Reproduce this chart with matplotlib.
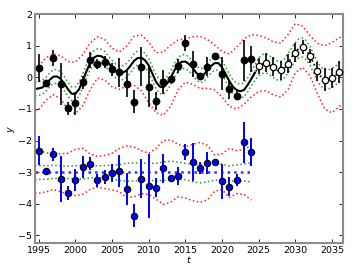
import numpy as np
import matplotlib
matplotlib.use('Agg')
import matplotlib.pyplot as plt

# --- observed series (upper, black) and forecast points (open)
yr_obs = list(range(1995, 2025))
y_obs = [0.30, -0.18, 0.60, -0.21, -0.98, -0.82, -0.16, 0.54, 0.42, 0.49,
         0.25, 0.16, -0.21, -0.77, 0.34, -0.29, -0.74, -0.15, -0.05, 0.37,
         1.08, 0.42, 0.03, 0.34, 0.68, 0.11, -0.37, -0.58, 0.54, 0.58]
e_obs = [0.45, 0.08, 0.25, 0.65, 0.20, 0.37, 0.20, 0.25, 0.15, 0.18,
         0.20, 0.45, 0.40, 0.37, 0.62, 0.65, 0.28, 0.38, 0.06, 0.22,
         0.25, 0.42, 0.12, 0.30, 0.08, 0.52, 0.30, 0.15, 0.65, 0.42]

yr_fc = list(range(2025, 2037))
y_fc = [0.36, 0.46, 0.33, 0.22, 0.43, 0.78, 0.95, 0.68, 0.19, -0.07, -0.01, 0.16]
e_fc = [0.25, 0.30, 0.30, 0.30, 0.30, 0.30, 0.22, 0.22, 0.30, 0.35, 0.32, 0.35]

# --- lower series (blue)
y_low = [-2.32, -2.97, -2.44, -3.21, -3.65, -3.26, -2.84, -2.73, -3.26, -3.15,
         -3.02, -2.97, -3.53, -4.37, -3.21, -3.44, -3.49, -2.88, -3.19, -3.13,
         -2.37, -2.68, -2.87, -2.72, -2.69, -3.29, -3.46, -3.25, -2.05, -2.36]
e_low = [0.45, 0.05, 0.20, 0.72, 0.22, 0.35, 0.35, 0.20, 0.20, 0.22,
         0.28, 0.50, 0.50, 0.35, 0.62, 1.00, 0.30, 0.45, 0.05, 0.28,
         0.25, 0.60, 0.20, 0.35, 0.10, 0.55, 0.30, 0.20, 0.65, 0.45]
low_level = -3.0

# --- fitted mean of upper series, every half year 1994.5..2036.5
mean_t = np.arange(1994.5, 2036.51, 0.5)
mean_y = [-0.37, -0.35, -0.32, -0.22, -0.08, 0.02, 0.03, -0.05, -0.20, -0.38,
          -0.52, -0.52, -0.38, -0.12, 0.18, 0.45, 0.62, 0.68, 0.67, 0.60,
          0.46, 0.32, 0.20, 0.14, 0.15, 0.22, 0.36, 0.52, 0.61, 0.62,
          0.54, 0.38, 0.12, -0.14, -0.29, -0.32, -0.20, -0.02, 0.22, 0.40,
          0.49, 0.50, 0.42, 0.30, 0.14, 0.05, 0.08, 0.22, 0.36, 0.45,
          0.45, 0.32, 0.10, -0.12, -0.30, -0.40, -0.44, -0.40, -0.24, -0.05,
          0.15, 0.33, 0.42, 0.44, 0.38, 0.30, 0.22, 0.20, 0.28, 0.44,
          0.64, 0.80, 0.92, 0.94, 0.86, 0.68, 0.44, 0.20, 0.02, -0.06,
          -0.07, -0.02, 0.06, 0.15, 0.22]
green_hw = [0.22] * 60 + [0.25, 0.28] + [0.30] * 23

# --- outer (red) band of upper series, yearly
red_t = [1994.5] + list(range(1995, 2037)) + [2036.5]
red_hi = [0.30, 0.36, 0.62, 0.74, 0.68, 0.50, 0.48, 0.72, 1.08, 1.28,
          1.20, 0.92, 0.80, 0.98, 1.30, 1.34, 1.12, 0.78, 0.80, 1.02,
          1.18, 1.22, 1.28, 1.30, 1.20, 1.02, 0.82, 0.74, 0.95, 1.22,
          1.35, 1.33, 1.25, 1.12, 1.08, 1.35, 1.70, 1.62, 1.32, 1.08,
          1.00, 1.10, 1.25, 1.30]
red_lo = [-1.06, -1.02, -0.72, -0.55, -0.68, -1.02, -1.15, -0.90, -0.40, -0.03,
          -0.08, -0.30, -0.38, -0.28, -0.25, -0.42, -0.80, -1.12, -1.20, -0.92,
          -0.40, -0.15, -0.22, -0.35, -0.35, -0.40, -0.62, -0.92, -1.00, -0.85,
          -0.62, -0.45, -0.42, -0.55, -0.62, -0.40, 0.15, 0.32, 0.05, -0.50,
          -1.00, -1.12, -0.92, -0.82]

# --- bands of lower series, yearly 1994.5..2024
low_t = [1994.5] + list(range(1995, 2025))
low_red_hi = [-2.30, -2.32, -2.38, -2.44, -2.42, -2.40, -2.28, -2.24, -2.42, -2.50,
              -2.47, -2.40, -2.25, -2.17, -2.20, -2.32, -2.40, -2.25, -2.00, -1.98,
              -2.12, -2.20, -2.12, -2.06, -2.15, -2.45, -2.42, -2.25, -2.32, -2.28,
              -2.15]
low_red_lo = [-3.66, -3.67, -3.62, -3.55, -3.62, -3.70, -3.74, -3.70, -3.55, -3.47,
              -3.52, -3.56, -3.62, -3.80, -3.78, -3.68, -3.70, -3.85, -4.02, -3.95,
              -3.78, -3.82, -3.90, -3.95, -3.88, -3.60, -3.55, -3.80, -3.68, -3.70,
              -3.88]
low_grn_hi = [-2.79, -2.79, -2.80, -2.78, -2.80, -2.81, -2.80, -2.77, -2.78, -2.80,
              -2.79, -2.78, -2.76, -2.72, -2.71, -2.71, -2.72, -2.72, -2.68, -2.65,
              -2.68, -2.72, -2.75, -2.76, -2.76, -2.72, -2.75, -2.80, -2.77, -2.74,
              -2.70]
low_grn_lo = [-3.24, -3.23, -3.22, -3.20, -3.18, -3.20, -3.22, -3.22, -3.18, -3.17,
              -3.19, -3.22, -3.26, -3.28, -3.28, -3.25, -3.24, -3.28, -3.26, -3.25,
              -3.22, -3.24, -3.30, -3.34, -3.30, -3.25, -3.24, -3.27, -3.30, -3.28,
              -3.30]

plt.rcParams['font.size'] = 6.8
fig = plt.figure(figsize=(3.61, 2.71), dpi=100)
ax = fig.add_axes([0.097, 0.102, 0.853, 0.846])

mean_y = np.array(mean_y); green_hw = np.array(green_hw)
past = mean_t <= 2024.5
fut = mean_t >= 2024.0

# upper series bands
red_c, grn_c = '#ff2020', '#2a9a2a'
ax.plot(red_t, red_hi, ':', color=red_c, lw=1.1)
ax.plot(red_t, red_lo, ':', color=red_c, lw=1.1)
ax.plot(mean_t, mean_y + green_hw, ':', color=grn_c, lw=1.1)
ax.plot(mean_t, mean_y - green_hw, ':', color=grn_c, lw=1.1)
ax.plot(mean_t[past], mean_y[past], '-', color='k', lw=1.5)
ax.plot(mean_t[fut], mean_y[fut], ':', color='k', lw=1.2)

# lower series bands
ax.plot(low_t, low_red_hi, ':', color=red_c, lw=1.1)
ax.plot(low_t, low_red_lo, ':', color=red_c, lw=1.1)
ax.plot(low_t, low_grn_hi, ':', color=grn_c, lw=1.1)
ax.plot(low_t, low_grn_lo, ':', color=grn_c, lw=1.1)
ax.plot([low_t[0], low_t[-1]], [low_level, low_level], ':', color='#3030ff', lw=1.8)

# data
ax.errorbar(yr_obs, y_obs, yerr=e_obs, fmt='o', color='k', ms=4.6,
            elinewidth=1.2, capsize=0, zorder=5)
ax.errorbar(yr_fc, y_fc, yerr=e_fc, fmt='o', mfc='white', mec='k', ecolor='k',
            ms=4.6, mew=0.9, elinewidth=1.2, capsize=0, zorder=5)
ax.errorbar(yr_obs, y_low, yerr=e_low, fmt='o', mfc='blue', mec='k', ecolor='blue',
            ms=4.6, mew=0.8, elinewidth=1.4, capsize=0, zorder=5)

ax.set_xlim(1994.5, 2036.5)
ax.set_ylim(-5.25, 2.0)
ax.set_xticks(range(1995, 2036, 5))
ax.set_yticks(range(-5, 3))
ax.tick_params(direction='in', top=True, right=True, length=3, width=0.6, pad=2)
for s in ax.spines.values():
    s.set_color('#8c8c8c'); s.set_linewidth(1.5)
ax.set_xlabel('$t$', labelpad=-1)
ax.set_ylabel('$y$', labelpad=1)

fig.savefig('out.png', dpi=100)
